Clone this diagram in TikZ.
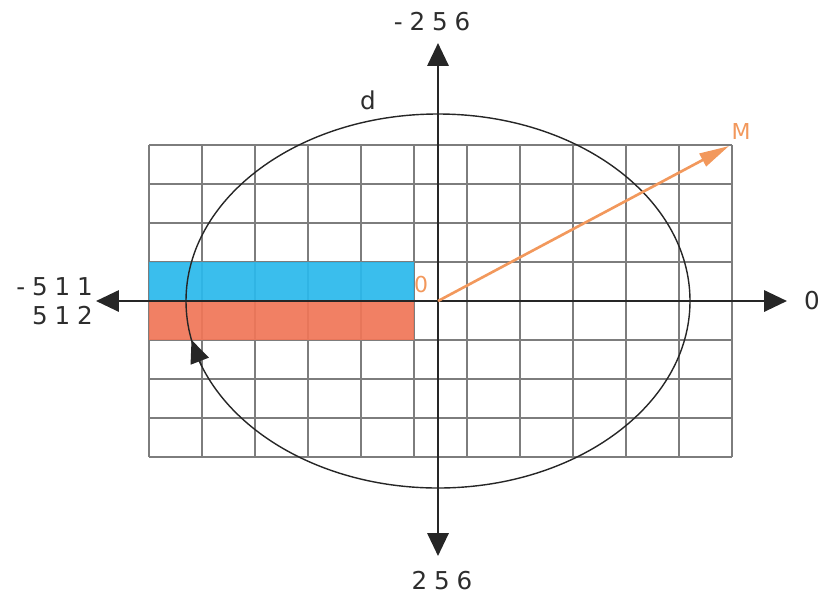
\documentclass[tikz,border=0pt]{standalone}
\usepackage{fontspec}
\usepackage{xcolor}
\usepackage{tikz}
\usetikzlibrary{arrows.meta,positioning,calc}
\newfontfamily\axisfont{DejaVu Sans}[LetterSpace=28]
\definecolor{gridgray}{RGB}{125,125,125}
\definecolor{barblue}{RGB}{43,185,236}
\definecolor{barred}{RGB}{240,118,88}
\definecolor{vecorange}{RGB}{242,152,92}
\definecolor{textgray}{RGB}{45,45,45}

\begin{document}
\begin{tikzpicture}[
    x=0.02cm, y=-0.02cm,
    font=\axisfont\fontsize{14}{16.5}\selectfont,
    gridline/.style={draw=gridgray, line width=1.2pt},
    axis/.style={{Triangle[length=13pt,width=12pt]}-{Triangle[length=13pt,width=12pt]}, line width=1.5pt, draw=black!85},
    orbit/.style={line width=0.8pt, draw=black!85},
    orbitarrow/.style={-{Triangle[length=13pt,width=11pt]}, line width=0.8pt, draw=black!85},
    vecarrow/.style={-{Triangle[length=17pt,width=8pt]}, line width=1.5pt, draw=vecorange},
    axislabel/.style={inner sep=1pt, text=textgray},
    orangelabel/.style={inner sep=1pt, text=vecorange, font=\axisfont\fontsize{12.5}{14}\selectfont}
]
\useasboundingbox (0,0) rectangle (824,599);

% grid
\foreach \i in {0,...,11}
    \draw[gridline] ({149+53*\i},145) -- ({149+53*\i},457);
\foreach \j in {0,...,8}
    \draw[gridline] (149,{145+39*\j}) -- (732,{145+39*\j});

% bars
\fill[barblue, fill opacity=0.93] (149,262) rectangle (414,301);
\fill[barred, fill opacity=0.93] (149,301) rectangle (414,340);

% axes
\coordinate (O) at (438,301);
\coordinate (xleft) at (96,301);
\coordinate (xright) at (787,301);
\coordinate (ytop) at (438,43);
\coordinate (ybot) at (438,556);
\coordinate (orbitstart) at (690,301);
\coordinate (mtip) at (729,146);

\draw[axis] (xleft) -- (xright);
\draw[axis] (ytop) -- (ybot);

% orbit
\draw[orbit] (orbitstart) arc [start angle=0, end angle=360, x radius=252, y radius=187];
\path (orbitstart) arc [start angle=0, end angle=160, x radius=252, y radius=187] coordinate (arrowbase);
\path (orbitstart) arc [start angle=0, end angle=168, x radius=252, y radius=187] coordinate (arrowend);
\draw[orbitarrow] (arrowbase) -- (arrowend);

% vector
\draw[vecarrow] (O) -- (mtip);

% labels
\node[axislabel, above=0.2cm of ytop, xshift=-0.12cm] (ymin) {-256};
\node[axislabel, below=0.26cm of ybot, xshift=0.08cm] (ymax) {256};
\node[axislabel, right=0.3cm of xright] (xzero) {0};
\node[axislabel, left=0.02cm of xleft, align=right] (xmin) {-511\\512};
\node[axislabel] (dlabel) at (368,100) {d};
\node[orangelabel] (mlabel) at (741,131) {M};
\node[orangelabel] (olabel) at (421,284) {0};

\end{tikzpicture}
\end{document}
